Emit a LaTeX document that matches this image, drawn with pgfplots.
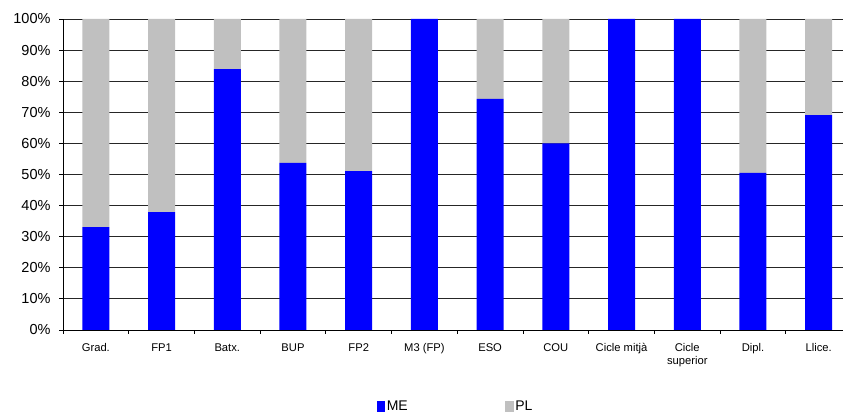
\documentclass[border=0pt]{standalone}
\usepackage{pgfplots}
\pgfplotsset{compat=1.18}
\usepackage{fontspec}
\setmainfont{Liberation Sans}
\definecolor{meblue}{RGB}{0,0,255}
\definecolor{plgray}{RGB}{192,192,192}
\begin{document}
\begin{tikzpicture}
\begin{axis}[
  at={(0,0)}, anchor=south west,
  scale only axis, width=780pt, height=311pt,
  ybar stacked, bar width=27pt,
  ymin=0, ymax=100, xmin=-0.5, xmax=11.37,
  axis x line*=bottom, axis y line*=left,
  axis line style={black, line width=0.8pt},
  ytick={0,10,...,100},
  yticklabel={\pgfmathprintnumber{\tick}\%},
  ymajorgrids, grid style={black!85, line width=0.8pt},
  xtick={0,...,11},
  xticklabels={Grad.,FP1,Batx.,BUP,FP2,M3 (FP),ESO,COU,Cicle mitjà,{Cicle\\superior},Dipl.,Llice.},
  minor xtick={-0.5,0.5,...,10.5},
  major x tick style={draw=none},
  tick align=outside, major tick length=4pt, minor tick length=4pt,
  tick style={black, line width=0.8pt},
  x tick label style={font=\fontsize{11.2}{13}\selectfont, align=center, yshift=-6pt},
  y tick label style={font=\fontsize{14.5}{14.5}\selectfont, xshift=-5pt},
  /pgf/number format/assume math mode=true,
  legend style={at={(0.503,-0.246)}, anchor=center, draw=none, fill=none,
    legend columns=2, font=\fontsize{14}{14}\selectfont,
    nodes={inner sep=1.5pt},
    /tikz/every even column/.append style={column sep=96pt}},
  legend image code/.code={\fill[#1] (0pt,-5.5pt) rectangle (8.5pt,5.5pt);},
]
\addplot[fill=meblue, draw=none] coordinates {(0,33.1) (1,37.9) (2,83.9) (3,53.7) (4,51.1) (5,100) (6,74.3) (7,60.0) (8,100) (9,100) (10,50.5) (11,69.1)};
\addplot[fill=plgray, draw=none] coordinates {(0,66.9) (1,62.1) (2,16.1) (3,46.3) (4,48.9) (5,0) (6,25.7) (7,40.0) (8,0) (9,0) (10,49.5) (11,30.9)};
\legend{ME,PL}
\end{axis}
\pgfresetboundingbox
\useasboundingbox (-63pt,-84pt) rectangle (780pt,330pt);
\end{tikzpicture}
\end{document}
